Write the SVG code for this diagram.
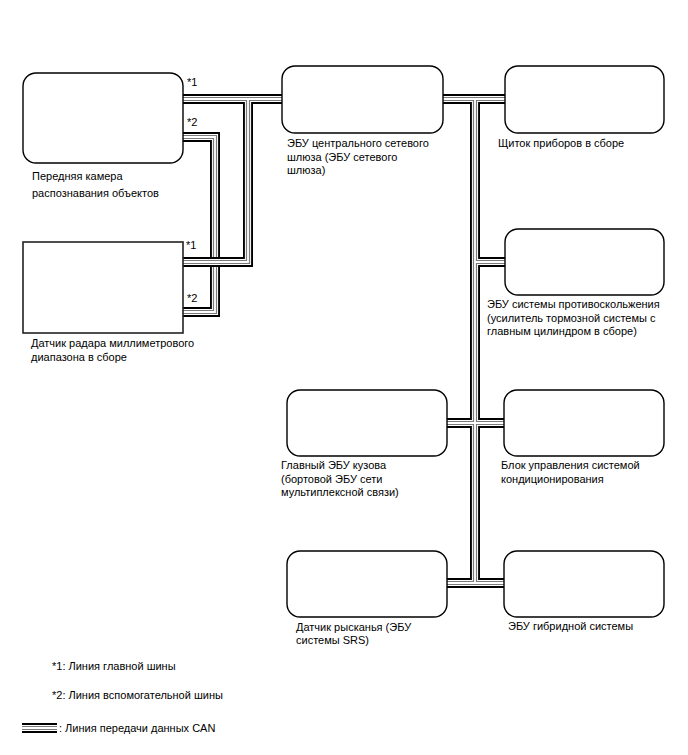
<svg xmlns="http://www.w3.org/2000/svg" xmlns:xlink="http://www.w3.org/1999/xlink" width="688" height="755" viewBox="0 0 688 755">
<style>
text{font-family:"Liberation Sans",Arial,sans-serif;font-size:11px;fill:#000}
.box{fill:#fff;stroke:#000;stroke-width:1.4}
.sq{fill:#fff;stroke:#222;stroke-width:1.6}
.l1{fill:none;stroke:#000;stroke-width:10}
.l2{fill:none;stroke:#fff;stroke-width:6.2}
.l3{fill:none;stroke:#7a7a7a;stroke-width:4.2}
.l4{fill:none;stroke:#fff;stroke-width:1.8}
</style>
<defs>
<path id="pSub" d="M183,137 H215 V312 H183"/>
<path id="pMain" d="M183,99 H282 M248,99 V262 H183 M443,99 H505 M475,99 V583 M475,262 H505 M447,423 H504 M447,583 H504"/>
<path id="pLeg" d="M22,728 H57"/>
</defs>
<g id="connectors" stroke-linejoin="miter" stroke-linecap="butt">
<g id="sub-bus">
<use xlink:href="#pSub" class="l1"/><use xlink:href="#pSub" class="l2"/><use xlink:href="#pSub" class="l3"/><use xlink:href="#pSub" class="l4"/>
</g>
<g id="main-bus">
<use xlink:href="#pMain" class="l1"/><use xlink:href="#pMain" class="l2"/><use xlink:href="#pMain" class="l3"/><use xlink:href="#pMain" class="l4"/>
</g>
</g>
<g id="camera">
<rect class="box" x="23" y="73" width="160" height="90" rx="13"/>
<text x="32" y="180">Передняя камера</text>
<text x="32" y="197">распознавания объектов</text>
<text x="187" y="86">*1</text>
<text x="187" y="126">*2</text>
</g>
<g id="radar">
<rect class="sq" x="23" y="242" width="160" height="91"/>
<text x="31" y="347">Датчик радара миллиметрового</text>
<text x="31" y="361">диапазона в сборе</text>
<text x="186" y="249">*1</text>
<text x="187" y="302">*2</text>
</g>
<g id="gateway">
<rect class="box" x="282" y="66" width="161" height="67" rx="13"/>
<text x="287" y="147">ЭБУ центрального сетевого</text>
<text x="287" y="161">шлюза (ЭБУ сетевого</text>
<text x="287" y="174">шлюза)</text>
</g>
<g id="cluster">
<rect class="box" x="505" y="66" width="159" height="67" rx="13"/>
<text x="498" y="147">Щиток приборов в сборе</text>
</g>
<g id="collision">
<rect class="box" x="505" y="229" width="159" height="66" rx="13"/>
<text x="487" y="308">ЭБУ системы противоскольжения</text>
<text x="487" y="322">(усилитель тормозной системы с</text>
<text x="487" y="335">главным цилиндром в сборе)</text>
</g>
<g id="body">
<rect class="box" x="287" y="390" width="160" height="66" rx="13"/>
<text x="281" y="469">Главный ЭБУ кузова</text>
<text x="281" y="483">(бортовой ЭБУ сети</text>
<text x="281" y="496">мультиплексной связи)</text>
</g>
<g id="ac">
<rect class="box" x="504" y="390" width="160" height="66" rx="13"/>
<text x="501" y="469">Блок управления системой</text>
<text x="501" y="483">кондиционирования</text>
</g>
<g id="yaw">
<rect class="box" x="287" y="551" width="160" height="66" rx="13"/>
<text x="296" y="631">Датчик рысканья (ЭБУ</text>
<text x="296" y="644">системы SRS)</text>
</g>
<g id="hybrid">
<rect class="box" x="504" y="551" width="160" height="66" rx="13"/>
<text x="508" y="630">ЭБУ гибридной системы</text>
</g>
<g id="legend">
<text x="52" y="670">*1: Линия главной шины</text>
<text x="52" y="699">*2: Линия вспомогательной шины</text>
<use xlink:href="#pLeg" class="l1"/><use xlink:href="#pLeg" class="l2"/><use xlink:href="#pLeg" class="l3"/><use xlink:href="#pLeg" class="l4"/>
<text x="59" y="732">: Линия передачи данных CAN</text>
</g>
</svg>
